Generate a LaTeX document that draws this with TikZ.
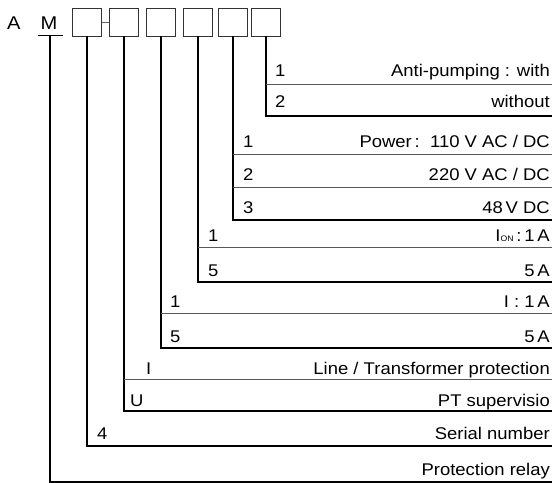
\documentclass[tikz,border=0pt]{standalone}
\usepackage{fontspec}
\setmainfont{Liberation Sans}[FakeStretch=1.09]
\begin{document}
\begin{tikzpicture}[x=1bp,y=-1bp,
  vline/.style={line width=1.3bp, black},
  sepline/.style={line width=0.9bp, black!65},
  lbl/.style={font=\fontsize{17}{17}\selectfont, inner sep=0pt},
  head/.style={font=\fontsize{18.5}{18.5}\selectfont, inner sep=0pt},
  num/.style={lbl, anchor=base west},
  txt/.style={lbl, anchor=base east},
  digbox/.style={draw=black!80, line width=0.8bp, minimum width=29bp, minimum height=28bp, inner sep=0pt}]
\useasboundingbox (0,0) rectangle (552,483);
% header
\node[head, anchor=base west] (A) at (7,30) {A};
\node[head, anchor=base] (M) at (49,30) {M};
\coordinate (mu1) at (38,35);
\coordinate (mu2) at (63,35);
\coordinate (mu) at (50,35);
\draw[line width=0.9bp] (mu1) -- (mu2);
\node[digbox] (b1) at (87,22) {};
\node[digbox] (b2) at (124,22) {};
\node[digbox] (b3) at (161,22) {};
\node[digbox] (b4) at (198,22) {};
\node[digbox] (b5) at (233,22) {};
\node[digbox] (b6) at (266,22) {};
\draw[line width=0.9bp, black!60] (b1.east) -- (b2.west);
% right ends
\coordinate (e6) at (552,116);
\coordinate (e5) at (552,220);
\coordinate (e4) at (552,282);
\coordinate (e3) at (552,348);
\coordinate (e2) at (552,411);
\coordinate (e1) at (552,446);
\coordinate (e0) at (552,482);
% brackets
\draw[vline] (b6.south) |- (e6);
\draw[vline] (b5.south) |- (e5);
\draw[vline] (b4.south) |- (e4);
\draw[vline] (b3.south) |- (e3);
\draw[vline] (b2.south) |- (e2);
\draw[vline] (b1.south) |- (e1);
\draw[vline] (mu) |- (e0);
% separators
\coordinate (s6a) at (266,84);  \coordinate (s6b) at (552,84);
\coordinate (s5a) at (233,154); \coordinate (s5b) at (552,154);
\coordinate (s5c) at (233,187); \coordinate (s5d) at (552,187);
\coordinate (s4a) at (198,247); \coordinate (s4b) at (552,247);
\coordinate (s3a) at (161,313); \coordinate (s3b) at (552,313);
\coordinate (s2a) at (124,379); \coordinate (s2b) at (552,379);
\draw[sepline] (s6a) -- (s6b);
\draw[sepline] (s5a) -- (s5b);
\draw[sepline] (s5c) -- (s5d);
\draw[sepline] (s4a) -- (s4b);
\draw[sepline] (s3a) -- (s3b);
\draw[sepline] (s2a) -- (s2b);
% labels: anti-pumping
\node[num] (n61) at (275,77) {1};
\node[txt] (t61) at (550,77) {Anti-pumping : with};
\node[num] (n62) at (275,108) {2};
\node[txt] (t62) at (550,108) {without};
% power
\node[num] (n51) at (243,148) {1};
\node[txt] (t51) at (550,148) {Power\,:\ \ 110 V AC / DC};
\node[num] (n52) at (243,181) {2};
\node[txt] (t52) at (550,181) {220 V AC / DC};
\node[num] (n53) at (243,214) {3};
\node[txt] (t53) at (550,214) {48\,V DC};
% I_ON
\node[num] (n41) at (208,241) {1};
\node[txt] (t41) at (550,241) {I{\fontsize{8}{8}\selectfont ON}\,:\,1\,A};
\node[num] (n45) at (208,276) {5};
\node[txt] (t45) at (550,276) {5\,A};
% I
\node[num] (n31) at (170,307) {1};
\node[txt] (t31) at (550,307) {I : 1\,A};
\node[num] (n35) at (170,342) {5};
\node[txt] (t35) at (550,342) {5\,A};
% type
\node[num] (n2i) at (146,374) {I};
\node[txt] (t2i) at (550,374) {Line / Transformer protection};
\node[num] (n2u) at (130,406) {U};
\node[txt] (t2u) at (550,406) {PT supervisio};
% serial
\node[num] (n14) at (97,439) {4};
\node[txt] (t14) at (550,439) {Serial number};
% relay
\node[txt] (t0) at (550,475) {Protection relay};
\end{tikzpicture}
\end{document}
